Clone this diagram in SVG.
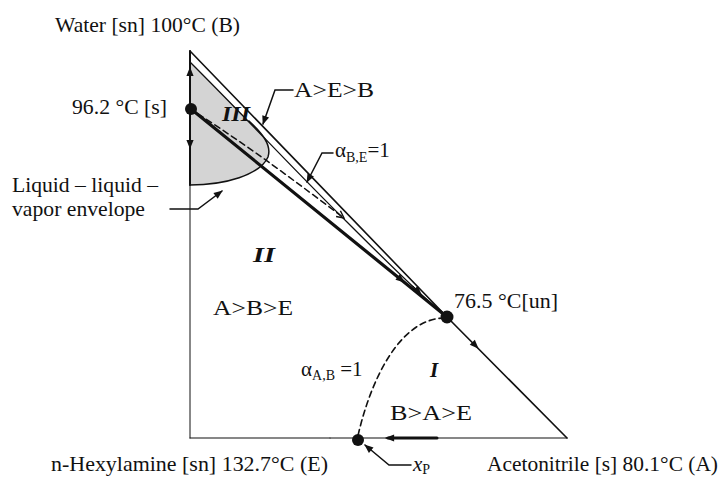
<svg xmlns="http://www.w3.org/2000/svg" width="724" height="480" viewBox="0 0 724 480">
<style>
text{font-family:"Liberation Serif","Times New Roman",serif;font-size:21px;fill:#111}
.ln{fill:none;stroke:#111;stroke-linecap:round}
.it{font-style:italic;font-weight:bold}
.sub{font-size:14px}
</style>
<defs>
<marker id="ah" viewBox="0 0 10 10" refX="9" refY="5" markerWidth="10" markerHeight="9" markerUnits="userSpaceOnUse" orient="auto"><path d="M0,1 L10,5 L0,9 z" fill="#111"/></marker>
<marker id="chev" viewBox="0 0 10 10" refX="9" refY="5" markerWidth="9" markerHeight="9" markerUnits="userSpaceOnUse" orient="auto"><path d="M1,1 L9,5 L1,9" fill="none" stroke="#111" stroke-width="1.6"/></marker>
</defs>
<g id="envelope">
<path d="M190,62 L249,121 C262,133 272,145 268,157 C260,175 225,185 190,185 Z" fill="#d4d4d4"/>
<path class="ln" d="M249,121 C262,133 272,145 268,157 C260,175 225,185 190,185" stroke-width="1.5"/>
</g>
<g id="connectors">
<path class="ln" d="M190,51 L190,185" stroke-width="2"/>
<path class="ln" d="M190,185 L190,438" stroke-width="1"/>
<path class="ln" d="M190,438 L330,438" stroke-width="1.2"/>
<path class="ln" d="M330,438 L357,438" stroke="#aaa" stroke-width="1"/>
<path class="ln" d="M357,438 L567,438" stroke-width="1.2"/>
<path class="ln" d="M388,438 L437,438" stroke-width="3"/>
<path class="ln" d="M190,51 L447,317 L567,438" stroke-width="1.6"/>
<path class="ln" d="M190,62 C250,122 300,176 347,222 C380,255 415,290 446,317" stroke-width="1.3"/>
<path class="ln" d="M191,109 L447,317" stroke-width="3.2"/>
<path class="ln" d="M198,114 C250,147 300,185 344,218" stroke-width="1.5" stroke-dasharray="6,4" marker-end="url(#chev)"/>
<path class="ln" d="M445,318 C400,318 370,380 357,440" stroke-width="1.6" stroke-dasharray="6,4"/>
<path class="ln" d="M190,79 L190,68" marker-end="url(#ah)"/>
<path class="ln" d="M190,137 L190,148" marker-end="url(#ah)"/>
<path class="ln" d="M413,286 L421,294" marker-end="url(#ah)"/>
<path class="ln" d="M396,275.5 L404,282" marker-end="url(#ah)"/>
<path class="ln" d="M470,340 L478,348" marker-end="url(#ah)"/>
<path class="ln" d="M397,438 L386,438" marker-end="url(#ah)"/>
<path class="ln" d="M293,90 L275,90 L263,124" stroke-width="1.5" marker-end="url(#ah)"/>
<path class="ln" d="M333,153 L322,153 L307,182" stroke-width="1.5" marker-end="url(#ah)"/>
<path class="ln" d="M170,209 L198,209 L222,191" stroke-width="1.5" marker-end="url(#ah)"/>
<path class="ln" d="M411,465 L389,465 L365,445" stroke-width="1.5" marker-end="url(#ah)"/>
</g>
<g id="node-water"><text x="55" y="32" textLength="185" lengthAdjust="spacingAndGlyphs">Water [sn] 100°C (B)</text></g>
<g id="node-962"><circle cx="191" cy="109" r="6" fill="#111"/><text x="72" y="114" textLength="95" lengthAdjust="spacingAndGlyphs">96.2 °C [s]</text></g>
<g id="node-lle"><text x="12" y="192" textLength="146" lengthAdjust="spacingAndGlyphs">Liquid – liquid –</text><text x="12" y="216" textLength="133" lengthAdjust="spacingAndGlyphs">vapor envelope</text></g>
<g id="label-aeb"><text x="294" y="97" textLength="80" lengthAdjust="spacingAndGlyphs">A&gt;E&gt;B</text></g>
<g id="region-III"><text class="it" x="222" y="121" textLength="28" lengthAdjust="spacingAndGlyphs">III</text></g>
<g id="label-alphaBE"><text x="335" y="157">α<tspan class="sub" dy="5">B,E</tspan><tspan dy="-5">=1</tspan></text></g>
<g id="region-II"><text class="it" x="253" y="262" textLength="22" lengthAdjust="spacingAndGlyphs">II</text></g>
<g id="label-abe"><text x="213" y="315" textLength="80" lengthAdjust="spacingAndGlyphs">A&gt;B&gt;E</text></g>
<g id="node-765"><circle cx="447" cy="317" r="6.5" fill="#111"/><text x="454" y="308" textLength="104" lengthAdjust="spacingAndGlyphs">76.5 °C[un]</text></g>
<g id="label-alphaAB"><text x="301" y="376">α<tspan class="sub" dy="4">A,B</tspan><tspan dy="-4"> =1</tspan></text></g>
<g id="region-I"><text class="it" x="430" y="377">I</text></g>
<g id="label-bae"><text x="390" y="420" textLength="82" lengthAdjust="spacingAndGlyphs">B&gt;A&gt;E</text></g>
<g id="node-xp"><circle cx="358" cy="440" r="6" fill="#111"/><text x="413" y="471"><tspan font-style="italic">x</tspan><tspan class="sub" dy="3">P</tspan></text></g>
<g id="node-hexylamine"><text x="51" y="471" textLength="277" lengthAdjust="spacingAndGlyphs">n-Hexylamine [sn] 132.7°C (E)</text></g>
<g id="node-acetonitrile"><text x="487" y="471" textLength="231" lengthAdjust="spacingAndGlyphs">Acetonitrile [s] 80.1°C (A)</text></g>
</svg>
